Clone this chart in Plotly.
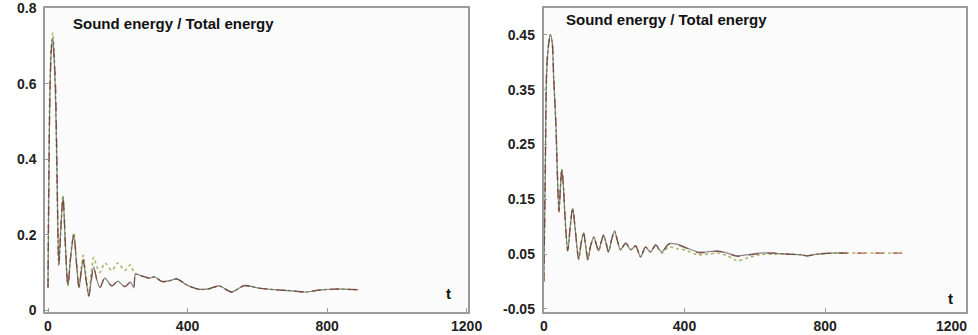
import plotly.graph_objects as go

# ---------------- Left panel data ----------------
left_t = [0, 2, 5, 10, 14, 18, 22, 26, 31, 37, 43, 50, 57, 65, 74, 82, 89, 95, 101, 109,
          117, 124, 131, 140, 149, 163, 183, 200, 220, 236, 246, 251, 270, 291, 306, 326,
          349, 369, 397, 434, 463, 491, 526, 563, 606, 654, 700, 740, 777, 834, 860, 890]
left_black = [0.06, 0.30, 0.55, 0.70, 0.72, 0.66, 0.55, 0.35, 0.12, 0.22, 0.30, 0.17, 0.065,
              0.14, 0.20, 0.12, 0.06, 0.10, 0.133, 0.08, 0.037, 0.08, 0.115, 0.08, 0.06,
              0.085, 0.064, 0.077, 0.062, 0.074, 0.059, 0.095, 0.09, 0.085, 0.088, 0.076,
              0.078, 0.083, 0.067, 0.055, 0.057, 0.064, 0.048, 0.065, 0.058, 0.054, 0.051,
              0.048, 0.053, 0.056, 0.055, 0.054]
left_red = [0.06, 0.29, 0.54, 0.69, 0.71, 0.66, 0.59, 0.36, 0.12, 0.22, 0.30, 0.17, 0.065,
            0.14, 0.20, 0.12, 0.06, 0.10, 0.133, 0.08, 0.037, 0.08, 0.115, 0.08, 0.06,
            0.085, 0.064, 0.077, 0.062, 0.074, 0.059, 0.095, 0.09, 0.085, 0.088, 0.076,
            0.078, 0.083, 0.067, 0.055, 0.057, 0.064, 0.048, 0.065, 0.058, 0.054, 0.051,
            0.048, 0.053, 0.056, 0.055, 0.054]
left_green = [0.06, 0.31, 0.57, 0.71, 0.735, 0.67, 0.55, 0.35, 0.12, 0.22, 0.305, 0.17, 0.065,
              0.145, 0.205, 0.125, 0.06, 0.11, 0.145, 0.09, 0.04, 0.10, 0.14, 0.115, 0.10,
              0.125, 0.105, 0.125, 0.105, 0.12, 0.10, 0.096, 0.09, 0.085, 0.088, 0.076,
              0.078, 0.083, 0.067, 0.055, 0.057, 0.064, 0.048, 0.065, 0.058, 0.054, 0.051,
              0.048, 0.053, 0.056, 0.055, 0.054]

# ---------------- Right panel data ----------------
right_t = [0, 4, 8, 13, 18, 23, 28, 34, 43, 47, 51, 55, 60, 68, 75, 82, 90, 99, 106, 113,
           119, 125, 133, 142, 149, 156, 163, 170, 177, 184, 192, 201, 209, 218, 233, 247,
           261, 275, 289, 303, 318, 335, 355, 380, 408, 437, 465, 494, 522, 550, 579, 616,
           653, 692, 729, 749, 777, 820, 862, 900, 950, 1018]
right_black = [0.0, 0.20, 0.38, 0.43, 0.45, 0.44, 0.37, 0.29, 0.127, 0.17, 0.205, 0.18, 0.12,
               0.056, 0.10, 0.134, 0.09, 0.041, 0.07, 0.089, 0.065, 0.04, 0.065, 0.081, 0.068,
               0.056, 0.072, 0.085, 0.07, 0.054, 0.075, 0.092, 0.075, 0.058, 0.07, 0.058,
               0.065, 0.045, 0.063, 0.054, 0.067, 0.054, 0.069, 0.068, 0.061, 0.054, 0.054,
               0.056, 0.052, 0.047, 0.049, 0.052, 0.052, 0.050, 0.049, 0.047, 0.050, 0.052,
               0.052, None, None, None]
right_red = [0.0, 0.19, 0.39, 0.43, 0.445, 0.44, 0.37, 0.29, 0.127, 0.17, 0.205, 0.18, 0.12,
             0.056, 0.10, 0.134, 0.09, 0.041, 0.07, 0.089, 0.065, 0.04, 0.065, 0.081, 0.068,
             0.056, 0.072, 0.085, 0.07, 0.054, 0.075, 0.092, 0.075, 0.058, 0.07, 0.058,
             0.065, 0.045, 0.063, 0.054, 0.067, 0.054, 0.068, 0.067, 0.060, 0.053, 0.053,
             0.055, 0.051, 0.046, 0.048, 0.051, 0.052, 0.050, 0.049, 0.047, 0.050, 0.052,
             0.052, 0.052, 0.052, 0.052]
right_green = [0.0, 0.21, 0.38, 0.43, 0.45, 0.44, 0.37, 0.29, 0.127, 0.17, 0.205, 0.18, 0.12,
               0.056, 0.10, 0.134, 0.09, 0.041, 0.07, 0.089, 0.065, 0.04, 0.065, 0.081, 0.068,
               0.056, 0.072, 0.085, 0.07, 0.054, 0.075, 0.092, 0.075, 0.058, 0.07, 0.058,
               0.065, 0.045, 0.063, 0.054, 0.065, 0.052, 0.063, 0.060, 0.056, 0.049, 0.050,
               0.052, 0.047, 0.038, 0.043, 0.049, 0.050, 0.050, 0.049, 0.047, 0.050, 0.052,
               0.052, 0.052, 0.052, 0.052]

left_yticks = [0, 0.2, 0.4, 0.6, 0.8]
left_yticktext = ["0", "0.2", "0.4", "0.6", "0.8"]
right_yticks = [-0.05, 0.05, 0.15, 0.25, 0.35, 0.45]
right_yticktext = ["-0.05", "0.05", "0.15", "0.25", "0.35", "0.45"]
xticks = [0, 400, 800, 1200]
xticktext = ["0", "400", "800", "1200"]
title_text = "Sound energy / Total energy"
xlabel_text = "t"

W, H = 978, 335
FONT = "Liberation Sans, Arial, sans-serif"

fig = go.Figure()

def add_series(t, g, r, k, xa, ya):
    fig.add_trace(go.Scatter(x=t, y=g, mode="lines", xaxis=xa, yaxis=ya,
                             line=dict(color="rgba(150,170,80,0.85)", width=1.6, dash="dot",
                                       shape="spline", smoothing=0.8),
                             showlegend=False, connectgaps=False, hoverinfo="skip"))
    fig.add_trace(go.Scatter(x=t, y=r, mode="lines", xaxis=xa, yaxis=ya,
                             line=dict(color="rgba(170,60,50,0.8)", width=1.3, dash="dash",
                                       shape="spline", smoothing=0.8),
                             showlegend=False, connectgaps=False, hoverinfo="skip"))
    fig.add_trace(go.Scatter(x=t, y=k, mode="lines", xaxis=xa, yaxis=ya,
                             line=dict(color="rgba(70,70,70,0.65)", width=1.2,
                                       shape="spline", smoothing=0.8),
                             showlegend=False, connectgaps=False, hoverinfo="skip"))

add_series(left_t, left_green, left_red, left_black, "x", "y")
add_series(right_t, right_green, right_red, right_black, "x2", "y2")

ydom = [1 - 312 / H, 1 - 8 / H]
tickfont = dict(family=FONT, size=14, color="#222222", weight="bold")
axis_common = dict(showgrid=False, zeroline=False, showline=True, linecolor="#9a9a9a",
                   linewidth=1.5, mirror=True, ticks="inside", ticklen=4,
                   tickcolor="#9a9a9a", tickwidth=1, automargin=False, tickfont=tickfont)

fig.update_layout(
    width=W, height=H,
    margin=dict(l=0, r=0, t=0, b=0, autoexpand=False),
    paper_bgcolor="white",
    plot_bgcolor="#fbfbfb",
    xaxis=dict(domain=[45 / W, 468 / W], range=[-8.6, 1204], tickvals=xticks,
               ticktext=xticktext, anchor="y", **axis_common),
    yaxis=dict(domain=ydom, range=[-0.005, 0.8008], tickvals=left_yticks,
               ticktext=left_yticktext, anchor="x", ticklabelstandoff=4, **axis_common),
    xaxis2=dict(domain=[543.5 / W, 966 / W], range=[-1, 1200.5], tickvals=xticks[:3],
                ticktext=xticktext[:3], anchor="y2", **axis_common),
    yaxis2=dict(domain=ydom, range=[-0.0555, 0.499], tickvals=right_yticks,
                ticktext=right_yticktext, anchor="x2", ticklabelstandoff=4, **axis_common),
)

def ann(text, px, py, size, xanchor="left", color="#111111"):
    fig.add_annotation(text="<b>%s</b>" % text, x=px / W, y=1 - py / H, xref="paper",
                       yref="paper", xanchor=xanchor, yanchor="middle", showarrow=False,
                       borderpad=0,
                       font=dict(family=FONT, size=size, color=color))

ann(title_text, 72, 23, 15)
ann(title_text, 565, 19, 15)
ann(xlabel_text, 448, 293, 15, "center")
ann(xlabel_text, 950, 298, 15, "center")
# last tick label of the right panel, kept inside the page as in the reference
ann(xticktext[3], 951, 326, 14, "center", "#222222")

fig.write_html("out.html", config={"displayModeBar": False},
               post_script="document.body.style.margin='0';document.body.style.padding='0';")
